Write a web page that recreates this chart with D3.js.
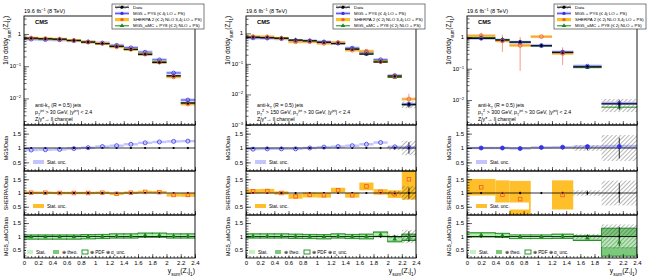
<!DOCTYPE html>
<html><head><meta charset="utf-8">
<script src="https://cdn.jsdelivr.net/npm/d3@7"></script>
<style>
body{margin:0;background:#fff}
text{font-family:"Liberation Sans",Arial,sans-serif;fill:#000}
</style></head><body>
<svg id="chart" width="648" height="279"></svg>
<script>
// ---- data ----
// bin edges
const edgesInc = [0,0.2,0.4,0.6,0.8,1.0,1.2,1.4,1.6,1.8,2.0,2.2,2.4];
const edgesPt150 = [0,0.2,0.4,0.6,0.8,1.0,1.2,1.4,1.6,1.8,2.0,2.2,2.4];
const edgesPt300 = [0,0.4,0.6,0.9,1.2,1.5,1.9,2.4];

// panel 1: pT(jet) > 30 GeV
const dataInc = [0.74,0.71,0.69,0.63,0.56,0.50,0.41,0.33,0.23,0.130,0.050,0.0072];
const dataErrInc = [0.03,0.03,0.03,0.03,0.03,0.03,0.03,0.03,0.03,0.03,0.04,0.05];
const mg5Inc = [0.93,0.94,0.95,0.98,1.01,1.05,1.08,1.13,1.18,1.21,1.23,1.24];
const mg5ErrInc = [0.02,0.02,0.02,0.02,0.02,0.02,0.02,0.02,0.02,0.02,0.03,0.03];
const sherpaInc = [1.01,1.01,1.00,1.00,1.00,1.01,0.97,1.01,1.04,1.03,0.93,0.93];
const sherpaErrInc = [0.02,0.02,0.02,0.02,0.02,0.02,0.03,0.02,0.03,0.03,0.06,0.07];
const amcInc = [0.98,0.98,0.98,0.98,0.99,1.0,1.02,1.02,1.05,1.05,1.02,1.02];
const amcErrInc = [0.08,0.08,0.08,0.08,0.08,0.08,0.08,0.08,0.08,0.08,0.08,0.08];

// panel 2: pT(Z) > 150 GeV
const dataPt150 = [0.74,0.72,0.69,0.60,0.57,0.51,0.46,0.305,0.21,0.115,0.040,0.0047];
const dataErrPt150 = [0.03,0.03,0.03,0.03,0.03,0.03,0.03,0.04,0.04,0.05,0.07,0.25];
const mg5Pt150 = [0.96,0.97,0.97,0.97,1.0,1.03,1.05,1.08,1.13,1.19,1.04,1.02];
const mg5ErrPt150 = [0.02,0.02,0.02,0.02,0.02,0.02,0.02,0.02,0.03,0.03,0.04,0.05];
const sherpaPt150 = [1.06,1.07,1.0,0.88,0.93,0.92,1.1,0.92,1.24,1.04,0.96,1.5];
const sherpaErrPt150 = [0.08,0.08,0.06,0.09,0.09,0.09,0.09,0.09,0.14,0.1,0.14,0.74];
const amcPt150 = [1.02,1.02,1.02,1.01,1.0,0.99,1.02,1.0,1.0,1.08,0.9,0.97];
const amcErrPt150 = [0.08,0.08,0.08,0.08,0.08,0.08,0.08,0.08,0.09,0.09,0.1,0.12];

// panel 3: pT(Z) > 300 GeV
const dataPt300 = [0.93,0.82,0.71,0.54,0.33,0.115,0.0075];
const dataErrPt300 = [0.04,0.05,0.06,0.05,0.06,0.1,0.45];
const mg5Pt300 = [1.0,1.0,0.98,1.02,1.03,1.05,1.05];
const mg5ErrPt300 = [0.03,0.03,0.03,0.03,0.04,0.04,0.06];
const sherpaPt300 = [1.21,0.94,0.78,1.95,0.93,null,null];
const sherpaErrPt300 = [0.3,0.52,0.66,0,0.53,null,null];
const amcPt300 = [1.06,1.04,0.99,0.99,1.01,0.94,0.79];
const amcErrPt300 = [0.08,0.08,0.07,0.07,0.08,0.09,0.52];

const ptCuts = [
  [["p"],["T","sub"],["jet","sup"],[" > 30 GeV, |y"],["jet","sup"],["| < 2.4"]],
  [["p"],["T","sub"],["Z","sup"],[" > 150 GeV, p"],["T","sub"],["jet","sup"],[" > 30 GeV, |y"],["jet","sup"],["| < 2.4"]],
  [["p"],["T","sub"],["Z","sup"],[" > 300 GeV, p"],["T","sub"],["jet","sup"],[" > 30 GeV, |y"],["jet","sup"],["| < 2.4"]]
];

// ---- layout ----
const TOP = 16, MAINB = 125, R1B = 171, R2B = 215, R3B = 258;
const cMG = "#3434e6", cMGband = "#c4c4ff";
const cSH = "#ee5a2c", cSHband = "#ffbf2a", cSHbar = "#f39074";
const cAM = "#178a17", cAMstat = "#c4f4c4", cAMtheo = "#7cc87c";

const svg = d3.select("#chart");
const defs = svg.append("defs");
defs.append("pattern").attr("id","hatch").attr("patternUnits","userSpaceOnUse")
  .attr("width",3).attr("height",3).attr("patternTransform","rotate(45)")
  .append("line").attr("x1",0).attr("y1",0).attr("x2",0).attr("y2",3)
  .attr("stroke","#333").attr("stroke-width",0.7);

function rich(t, parts, fs){
  parts.forEach(p=>{
    const ts = t.append("tspan").text(p[0]);
    if(p[1]==="sup") ts.attr("baseline-shift","super").attr("font-size",fs*0.7);
    if(p[1]==="sub") ts.attr("baseline-shift","sub").attr("font-size",fs*0.7);
  });
  return t;
}

const panels = [
  {x0:24,x1:195,edges:edgesInc,data:dataInc,dErr:dataErrInc,mg:mg5Inc,mgErr:mg5ErrInc,
   sh:sherpaInc,shErr:sherpaErrInc,am:amcInc,amErr:amcErrInc,yDom:[1.5e-3,3.6],cut:ptCuts[0]},
  {x0:246,x1:416,edges:edgesPt150,data:dataPt150,dErr:dataErrPt150,mg:mg5Pt150,mgErr:mg5ErrPt150,
   sh:sherpaPt150,shErr:sherpaErrPt150,am:amcPt150,amErr:amcErrPt150,yDom:[1e-3,3.7],cut:ptCuts[1]},
  {x0:467,x1:637,edges:edgesPt300,data:dataPt300,dErr:dataErrPt300,mg:mg5Pt300,mgErr:mg5ErrPt300,
   sh:sherpaPt300,shErr:sherpaErrPt300,am:amcPt300,amErr:amcErrPt300,yDom:[1.6e-3,4.8],cut:ptCuts[2]}
];

panels.forEach((p,pi)=>drawPanel(p,pi));

function styleAxis(g){
  g.select(".domain").remove();
  g.selectAll(".tick line").attr("stroke","#000").attr("stroke-width",0.6);
  g.selectAll(".tick text").attr("font-size",6).attr("font-family","Liberation Sans, Arial, sans-serif");
}

function drawPanel(p, pi){
  const g = svg.append("g");
  const x = d3.scaleLinear().domain([0,2.4]).range([p.x0,p.x1]);
  const y = d3.scaleLog().domain(p.yDom).range([MAINB,TOP]);
  const pads = [[TOP,MAINB],[MAINB,R1B],[R1B,R2B],[R2B,R3B]];
  const ry = pads.slice(1).map(d=>d3.scaleLinear().domain([0.2,1.8]).range([d[1],d[0]]));
  const n = p.data.length;
  const bins = d3.range(n).map(i=>({i, a:p.edges[i], b:p.edges[i+1], m:(p.edges[i]+p.edges[i+1])/2, v:p.data[i]}));

  pads.forEach((d,k)=>{
    defs.append("clipPath").attr("id",`clip${pi}_${k}`).append("rect")
      .attr("x",p.x0).attr("y",d[0]).attr("width",p.x1-p.x0).attr("height",d[1]-d[0]);
  });

  // ---- main pad ----
  const m = g.append("g").attr("clip-path",`url(#clip${pi}_0)`);
  // data syst (hatched)
  m.selectAll(".dh").data(bins.filter(b=>p.dErr[b.i]>=0.07)).join("rect")
    .attr("x",b=>x(b.a)).attr("width",b=>x(b.b)-x(b.a))
    .attr("y",b=>y(b.v*(1+p.dErr[b.i]))).attr("height",b=>y(b.v*(1-p.dErr[b.i]))-y(b.v*(1+p.dErr[b.i])))
    .attr("fill","url(#hatch)");
  // MG5 band + line
  m.selectAll(".mgb").data(bins).join("rect")
    .attr("x",b=>x(b.a)).attr("width",b=>x(b.b)-x(b.a))
    .attr("y",b=>y(b.v*p.mg[b.i])-1.6).attr("height",3.2).attr("fill",cMGband);
  m.selectAll(".mgl").data(bins).join("line")
    .attr("x1",b=>x(b.a)).attr("x2",b=>x(b.b))
    .attr("y1",b=>y(b.v*p.mg[b.i])).attr("y2",b=>y(b.v*p.mg[b.i]))
    .attr("stroke",cMG).attr("stroke-width",0.8);
  // SHERPA
  const shb = bins.filter(b=>p.sh[b.i]!=null);
  m.selectAll(".shb").data(shb).join("rect")
    .attr("x",b=>x(b.a)).attr("width",b=>x(b.b)-x(b.a))
    .attr("y",b=>y(b.v*p.sh[b.i])-1.4).attr("height",2.8).attr("fill",cSHband).attr("opacity",0.9);
  m.selectAll(".shl").data(shb).join("line")
    .attr("x1",b=>x(b.a)).attr("x2",b=>x(b.b))
    .attr("y1",b=>y(b.v*p.sh[b.i])).attr("y2",b=>y(b.v*p.sh[b.i]))
    .attr("stroke",cSHbar).attr("stroke-width",0.8);
  m.selectAll(".she").data(shb.filter(b=>p.shErr[b.i]>0.2)).join("line")
    .attr("x1",b=>x(b.m)).attr("x2",b=>x(b.m))
    .attr("y1",b=>y(b.v*(p.sh[b.i]+p.shErr[b.i]))).attr("y2",b=>y(b.v*Math.max(p.sh[b.i]-p.shErr[b.i],0.05)))
    .attr("stroke",cSHbar).attr("stroke-width",0.9);
  // aMC
  m.selectAll(".aml").data(bins).join("line")
    .attr("x1",b=>x(b.a)).attr("x2",b=>x(b.b))
    .attr("y1",b=>y(b.v*p.am[b.i])).attr("y2",b=>y(b.v*p.am[b.i]))
    .attr("stroke",cAM).attr("stroke-width",1);
  m.selectAll(".amt").data(bins).join("path")
    .attr("d",d3.symbol(d3.symbolTriangle,9))
    .attr("transform",b=>`translate(${x(b.m)},${y(b.v*p.am[b.i])})`).attr("fill",cAM);
  // data
  m.selectAll(".dl").data(bins).join("line")
    .attr("x1",b=>x(b.a)).attr("x2",b=>x(b.b)).attr("y1",b=>y(b.v)).attr("y2",b=>y(b.v))
    .attr("stroke","#111").attr("stroke-width",1.3);
  m.selectAll(".de").data(bins).join("line")
    .attr("x1",b=>x(b.m)).attr("x2",b=>x(b.m))
    .attr("y1",b=>y(b.v*(1+p.dErr[b.i]*0.8))).attr("y2",b=>y(b.v*(1-p.dErr[b.i]*0.8)))
    .attr("stroke","#111").attr("stroke-width",0.8);
  m.selectAll(".dp").data(bins).join("circle")
    .attr("cx",b=>x(b.m)).attr("cy",b=>y(b.v)).attr("r",1.7).attr("fill","#000");
  // model markers on top
  m.selectAll(".mgc").data(bins).join("circle")
    .attr("cx",b=>x(b.m)).attr("cy",b=>y(b.v*p.mg[b.i])).attr("r",1.9)
    .attr("fill","none").attr("stroke",cMG).attr("stroke-width",0.8);
  m.selectAll(".shc").data(shb).join("circle")
    .attr("cx",b=>x(b.m)).attr("cy",b=>y(b.v*p.sh[b.i])).attr("r",1.9)
    .attr("fill","none").attr("stroke",cSH).attr("stroke-width",0.8);

  // ---- ratio pads ----
  const models = [
    {val:p.mg, err:p.mgErr, kind:"mg"},
    {val:p.sh, err:p.shErr, kind:"sh"},
    {val:p.am, err:p.amErr, kind:"am"}
  ];
  models.forEach((md,k)=>{
    const r = ry[k];
    const rg = g.append("g").attr("clip-path",`url(#clip${pi}_${k+1})`);
    const bb = bins.filter(b=>md.val[b.i]!=null);
    const band = (sel, f, fill)=>sel.data(bb).join("rect")
      .attr("x",b=>x(b.a)).attr("width",b=>x(b.b)-x(b.a))
      .attr("y",b=>Math.min(r(md.val[b.i]+f(b)), r(md.val[b.i])-1.2))
      .attr("height",b=>Math.max(r(md.val[b.i]-f(b))-r(md.val[b.i]+f(b)),2.4))
      .attr("fill",fill);
    if(md.kind==="mg"){
      band(rg.selectAll(".b"), b=>md.err[b.i], cMGband);
    } else if(md.kind==="sh"){
      band(rg.selectAll(".b"), b=>md.err[b.i], cSHband).filter(b=>md.err[b.i]===0).remove();
    } else {
      band(rg.selectAll(".b0"), b=>md.err[b.i], cAMtheo).attr("stroke",cAM).attr("stroke-width",0.9);
      band(rg.selectAll(".b1"), b=>md.err[b.i]*0.35, cAMstat).attr("opacity",0.8);
    }
    // data reference
    rg.selectAll(".dh").data(bins.filter(b=>p.dErr[b.i]>=0.07)).join("rect")
      .attr("x",b=>x(b.a)).attr("width",b=>x(b.b)-x(b.a))
      .attr("y",b=>r(1+p.dErr[b.i])).attr("height",b=>r(1-p.dErr[b.i])-r(1+p.dErr[b.i]))
      .attr("fill","url(#hatch)");
    rg.append("line").attr("x1",p.x0).attr("x2",p.x1).attr("y1",r(1)).attr("y2",r(1))
      .attr("stroke","#000").attr("stroke-width",0.8);
    rg.selectAll(".de").data(bins).join("line")
      .attr("x1",b=>x(b.m)).attr("x2",b=>x(b.m))
      .attr("y1",b=>r(1+Math.max(p.dErr[b.i]*0.8,0.03))).attr("y2",b=>r(1-Math.max(p.dErr[b.i]*0.8,0.03)))
      .attr("stroke","#000").attr("stroke-width",0.8);
    rg.selectAll(".dp").data(bins).join("circle")
      .attr("cx",b=>x(b.m)).attr("cy",r(1)).attr("r",1.1).attr("fill","#000");
    // markers
    if(md.kind==="mg"){
      rg.selectAll(".mk").data(bb).join("circle")
        .attr("cx",b=>x(b.m)).attr("cy",b=>r(md.val[b.i])).attr("r",2)
        .attr("fill",pi===2?cMG:"none").attr("stroke",cMG).attr("stroke-width",0.8);
    } else if(md.kind==="sh"){
      rg.selectAll(".mk").data(bb).join("rect")
        .attr("x",b=>x(b.m)-1.8).attr("y",b=>r(md.val[b.i])-1.8).attr("width",3.6).attr("height",3.6)
        .attr("fill","none").attr("stroke",cSH).attr("stroke-width",0.8);
    } else {
      rg.selectAll(".mk").data(bb).join("path")
        .attr("d",d3.symbol(d3.symbolTriangle,9))
        .attr("transform",b=>`translate(${x(b.m)},${r(md.val[b.i])})`).attr("fill",cAM);
    }
  });

  // ---- frames and axes ----
  pads.forEach((d,k)=>{
    g.append("rect").attr("x",p.x0).attr("y",d[0]).attr("width",p.x1-p.x0).attr("height",d[1]-d[0])
      .attr("fill","none").attr("stroke","#000").attr("stroke-width",0.9);
    const last = k===3;
    const ax = g.append("g").attr("transform",`translate(0,${d[1]})`)
      .call(d3.axisBottom(x).ticks(12).tickSizeInner(-4).tickSizeOuter(0).tickPadding(3)
        .tickFormat(last ? (v=>d3.format("~g")(v)) : ""));
    styleAxis(ax);
    const axm = g.append("g").attr("transform",`translate(0,${d[1]})`)
      .call(d3.axisBottom(x).tickValues(x.ticks(48)).tickSizeInner(-2).tickSizeOuter(0).tickFormat(""));
    styleAxis(axm);
  });
  // main y axis (log)
  const decades = y.ticks().filter(v=>Math.abs(Math.log10(v)-Math.round(Math.log10(v)))<1e-6);
  const ay = g.append("g").attr("transform",`translate(${p.x0},0)`)
    .call(d3.axisLeft(y).tickValues(decades).tickSizeInner(-5).tickSizeOuter(0).tickFormat(""));
  styleAxis(ay);
  const aym = g.append("g").attr("transform",`translate(${p.x0},0)`)
    .call(d3.axisLeft(y).tickValues(y.ticks().filter(v=>!decades.includes(v))).tickSizeInner(-2.5).tickSizeOuter(0).tickFormat(""));
  styleAxis(aym);
  decades.forEach(v=>{
    const e = Math.round(Math.log10(v));
    const t = g.append("text").attr("x",p.x0-3).attr("y",y(v)+2).attr("text-anchor","end").attr("font-size",6);
    if(e===0) t.text("1"); else rich(t,[["10"],[String(e).replace("-","\u2212"),"sup"]],6);
  });
  // ratio y axes
  ry.forEach(r=>{
    const a = g.append("g").attr("transform",`translate(${p.x0},0)`)
      .call(d3.axisLeft(r).tickValues([0.5,1,1.5]).tickSizeInner(-5).tickSizeOuter(0).tickPadding(3)
        .tickFormat(d3.format("~g")));
    styleAxis(a);
    const am = g.append("g").attr("transform",`translate(${p.x0},0)`)
      .call(d3.axisLeft(r).tickValues(r.ticks(16).filter(v=>v>0.2&&v<1.8)).tickSizeInner(-2.5).tickSizeOuter(0).tickFormat(""));
    styleAxis(am);
  });

  // ---- titles ----
  const lx = p.x0-16;
  rich(g.append("text").attr("transform",`translate(${lx},${TOP}) rotate(-90)`).attr("text-anchor","end").attr("font-size",6.3),
    [["1/\u03c3 d\u03c3/dy"],["sum","sub"],["(Z,j"],["1","sub"],[")"]],6.3);
  const rl = ["MG5/Data","SHERPA/Data","MG5_aMC/Data"];
  pads.slice(1).forEach((d,k)=>{
    g.append("text").attr("transform",`translate(${lx},${(d[0]+d[1])/2}) rotate(-90)`)
      .attr("text-anchor","middle").attr("font-size",5.4).text(rl[k]);
  });
  rich(g.append("text").attr("x",p.x1).attr("y",273).attr("text-anchor","end").attr("font-size",6.8),
    [["y"],["sum","sub"],["(Z,j"],["1","sub"],[")"]],6.8);
  rich(g.append("text").attr("x",p.x0).attr("y",13).attr("font-size",5.6),
    [["19.6 fb"],["\u22121","sup"],[" (8 TeV)"]],5.6);
  g.append("text").attr("x",p.x0+11).attr("y",24).attr("font-size",5.8).attr("font-weight","bold").text("CMS");
  rich(g.append("text").attr("x",p.x0+11).attr("y",107).attr("font-size",5.2),
    [["anti-k"],["T","sub"],[" (R = 0.5) jets"]],5.2);
  rich(g.append("text").attr("x",p.x0+11).attr("y",114).attr("font-size",5.2),p.cut,5.2);
  rich(g.append("text").attr("x",p.x0+11).attr("y",121).attr("font-size",5.2),
    [["Z/\u03b3*\u2192 ll channel"]],5.2);

  // ---- legend ----
  const L = g.append("g").attr("transform",`translate(${p.x1-83},4)`);
  L.append("rect").attr("width",92).attr("height",25).attr("fill","#fff").attr("stroke","#444").attr("stroke-width",0.7);
  const rows = [
    {t:"Data"},
    {t:"MG5 + PY6 (\u2264 4j LO + PS)"},
    {t:"SHERPA 2 (\u2264 2j NLO 3,4j LO + PS)"},
    {t:"MG5_aMC + PY8 (\u2264 2j NLO + PS)"}
  ];
  rows.forEach((rw,k)=>{
    const cy = 3.2+k*6.2;
    const s = L.append("g");
    if(k===0){
      s.append("rect").attr("x",3).attr("y",cy-2).attr("width",14).attr("height",4).attr("fill","url(#hatch)");
      s.append("line").attr("x1",3).attr("x2",17).attr("y1",cy).attr("y2",cy).attr("stroke","#000").attr("stroke-width",1);
      s.append("circle").attr("cx",10).attr("cy",cy).attr("r",1.6).attr("fill","#000");
    } else if(k===1){
      s.append("rect").attr("x",3).attr("y",cy-1.6).attr("width",14).attr("height",3.2).attr("fill",cMGband);
      s.append("line").attr("x1",3).attr("x2",17).attr("y1",cy).attr("y2",cy).attr("stroke",cMG).attr("stroke-width",0.8);
      s.append("circle").attr("cx",10).attr("cy",cy).attr("r",1.7).attr("fill",cMG);
    } else if(k===2){
      s.append("rect").attr("x",3).attr("y",cy-1.6).attr("width",14).attr("height",3.2).attr("fill",cSHband);
      s.append("circle").attr("cx",10).attr("cy",cy).attr("r",1.7).attr("fill",cSH);
    } else {
      s.append("line").attr("x1",3).attr("x2",17).attr("y1",cy).attr("y2",cy).attr("stroke",cAM).attr("stroke-width",1);
      s.append("path").attr("d",d3.symbol(d3.symbolTriangle,9)).attr("transform",`translate(10,${cy})`).attr("fill",cAM);
    }
    L.append("text").attr("x",21).attr("y",cy+1.6).attr("font-size",4.4).text(rw.t);
  });

  // ratio legends
  const l1 = g.append("g").attr("transform",`translate(${p.x0+9},${R1B-9})`);
  l1.append("rect").attr("x",-1).attr("y",-3.5).attr("width",38).attr("height",7).attr("fill","#fff");
  l1.append("rect").attr("x",0).attr("y",-2).attr("width",11).attr("height",4).attr("fill",cMGband);
  l1.append("text").attr("x",14).attr("y",1.8).attr("font-size",4.6).text("Stat. unc.");
  const l2 = g.append("g").attr("transform",`translate(${p.x0+9},${R2B-9})`);
  l2.append("rect").attr("x",-1).attr("y",-3.5).attr("width",54).attr("height",7).attr("fill","#fff");
  l2.append("rect").attr("x",0).attr("y",-2).attr("width",11).attr("height",4).attr("fill",cSHband);
  l2.append("text").attr("x",14).attr("y",1.8).attr("font-size",4.6).text("Stat. unc.");
  const l3 = g.append("g").attr("transform",`translate(${p.x0+3},${R3B-6})`);
  l3.append("rect").attr("x",-1).attr("y",-3.5).attr("width",104).attr("height",7).attr("fill","#fff");
  l3.append("rect").attr("x",0).attr("y",-2).attr("width",6).attr("height",4).attr("fill",cAMstat);
  l3.append("text").attr("x",9).attr("y",1.8).attr("font-size",4.6).text("Stat.");
  l3.append("rect").attr("x",26).attr("y",-2).attr("width",6).attr("height",4).attr("fill",cAMtheo);
  l3.append("text").attr("x",35).attr("y",1.8).attr("font-size",4.6).text("\u2295 theo.");
  l3.append("rect").attr("x",55).attr("y",-2).attr("width",6).attr("height",4).attr("fill","none").attr("stroke",cAM).attr("stroke-width",0.9);
  rich(l3.append("text").attr("x",63).attr("y",1.8).attr("font-size",4.6),
    [["\u2295 PDF \u2295 \u03b1"],["s","sub"],[" unc."]],4.6);
}
</script>
</body></html>
